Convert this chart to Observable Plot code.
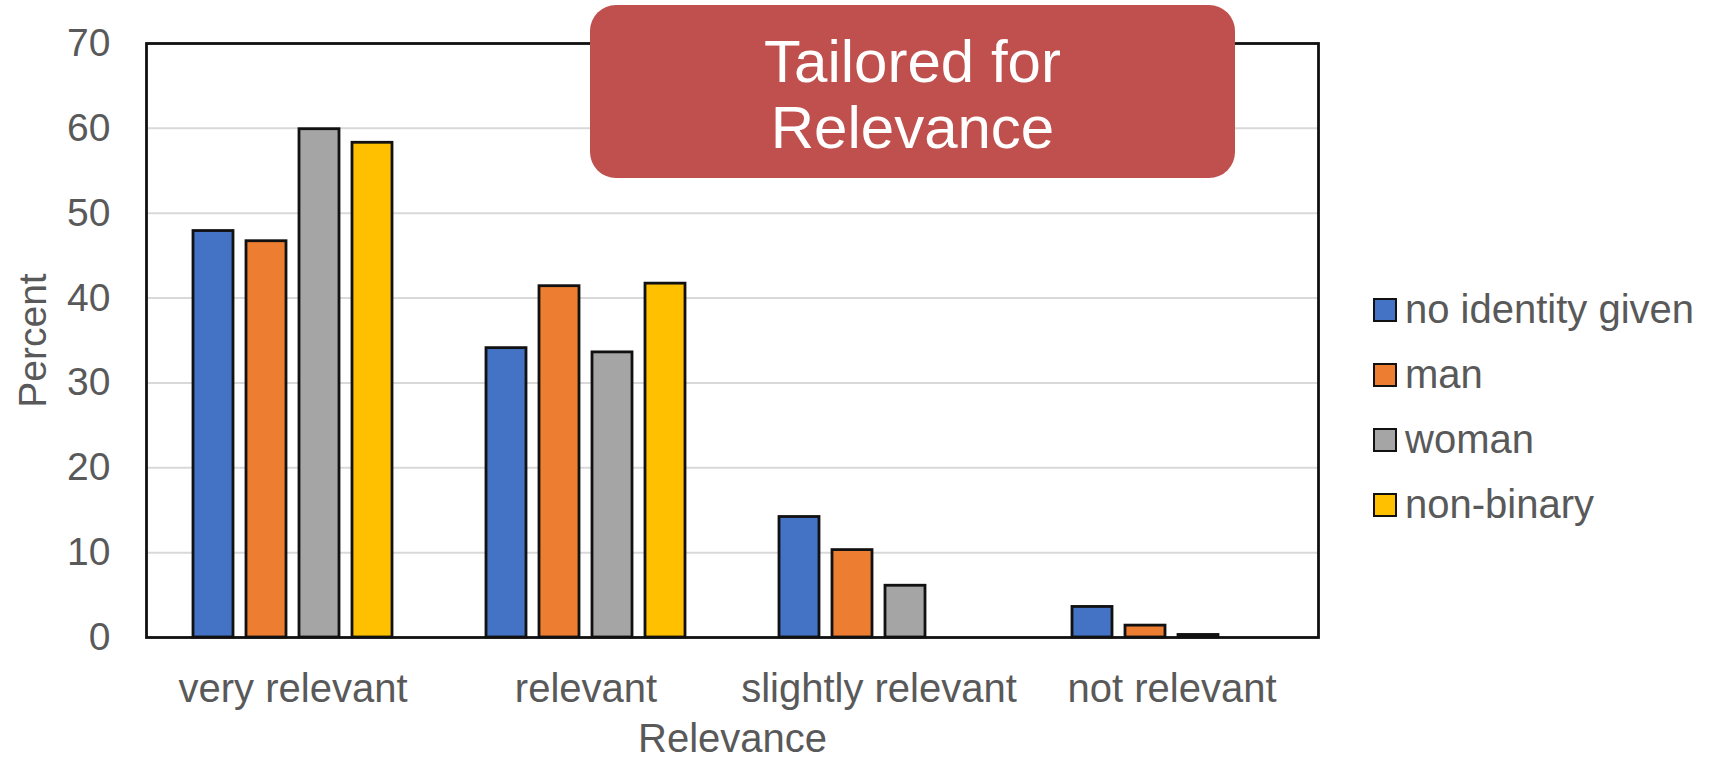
<!DOCTYPE html>
<html>
<head>
<meta charset="utf-8">
<script src="https://cdn.jsdelivr.net/npm/d3@7"></script>
<script src="https://cdn.jsdelivr.net/npm/@observablehq/plot@0.6"></script>
<style>
  html, body { margin: 0; padding: 0; background: #fff; }
  #wrap { position: relative; width: 1720px; height: 758px; font-family: "Liberation Sans", Arial, sans-serif; }
  #wrap svg { position: absolute; left: 0; top: 0; }
  #title {
    position: absolute; left: 590px; top: 5px; width: 645px; height: 173px;
    box-sizing: border-box; padding-top: 24px;
    background: #C0504D; border-radius: 26px; color: #fff;
    font-size: 60px; line-height: 66px; text-align: center;
  }
  #legend { position: absolute; left: 1373px; top: 277px; color: #595959; font-size: 40px; }
  .row { display: flex; align-items: center; height: 65px; }
  .sw { width: 20px; height: 20px; border: 2px solid #111; margin-right: 8px; }
</style>
</head>
<body>
<div id="wrap"></div>
<script>
const categories = ["very relevant", "relevant", "slightly relevant", "not relevant"];
const seriesNames = ["no identity given", "man", "woman", "non-binary"];
const seriesColors = ["#4472C4", "#ED7D31", "#A5A5A5", "#FFC000"];
const noIdentity = [47.9, 34.1, 14.2, 3.6];
const man = [46.7, 41.4, 10.3, 1.4];
const woman = [59.9, 33.6, 6.1, 0.3];
const nonBinary = [58.3, 41.7, 0, 0];
const yTicks = [0, 10, 20, 30, 40, 50, 60, 70];

const seriesValues = [noIdentity, man, woman, nonBinary];
const data = [];
categories.forEach((c, i) => {
  seriesNames.forEach((s, j) => data.push({category: c, series: s, value: seriesValues[j][i]}));
});

const chart = Plot.plot({
  width: 1720,
  height: 758,
  marginLeft: 146,
  marginRight: 402,
  marginTop: 43,
  marginBottom: 121,
  style: { fontFamily: "'Liberation Sans', Arial, sans-serif", color: "#595959", background: "transparent" },
  fx: { domain: categories, padding: 0, label: "Relevance" },
  x: { domain: seriesNames, paddingInner: 0.24, paddingOuter: 0.872, axis: null },
  y: { domain: [0, 70], label: "Percent" },
  color: { domain: seriesNames, range: seriesColors },
  marks: [
    Plot.gridY({ ticks: yTicks, stroke: "#d9d9d9", strokeOpacity: 1, strokeWidth: 2 }),
    Plot.barY(data, { fx: "category", x: "series", y: "value", fill: "series", stroke: "#111", strokeWidth: 2.8 }),
    Plot.frame({ facet: "super", stroke: "#111", strokeWidth: 2.8 }),
    Plot.axisY({ ticks: yTicks, tickSize: 0, tickPadding: 36, fontSize: 39, label: "Percent", labelAnchor: "center", labelOffset: 128, labelArrow: "none" }),
    Plot.axisFx({ anchor: "bottom", tickSize: 0, tickPadding: 36, fontSize: 40, label: "Relevance", labelAnchor: "center", labelOffset: 114, labelArrow: "none" })
  ]
});
const wrap = document.getElementById("wrap");
wrap.appendChild(chart);

const title = document.createElement("div");
title.id = "title";
title.innerHTML = "Tailored for<br>Relevance";
wrap.appendChild(title);

const legend = document.createElement("div");
legend.id = "legend";
seriesNames.forEach((s, i) => {
  const row = document.createElement("div");
  row.className = "row";
  const sw = document.createElement("div");
  sw.className = "sw";
  sw.style.background = seriesColors[i];
  const t = document.createElement("span");
  t.textContent = s;
  row.appendChild(sw); row.appendChild(t);
  legend.appendChild(row);
});
wrap.appendChild(legend);
</script>
</body>
</html>
